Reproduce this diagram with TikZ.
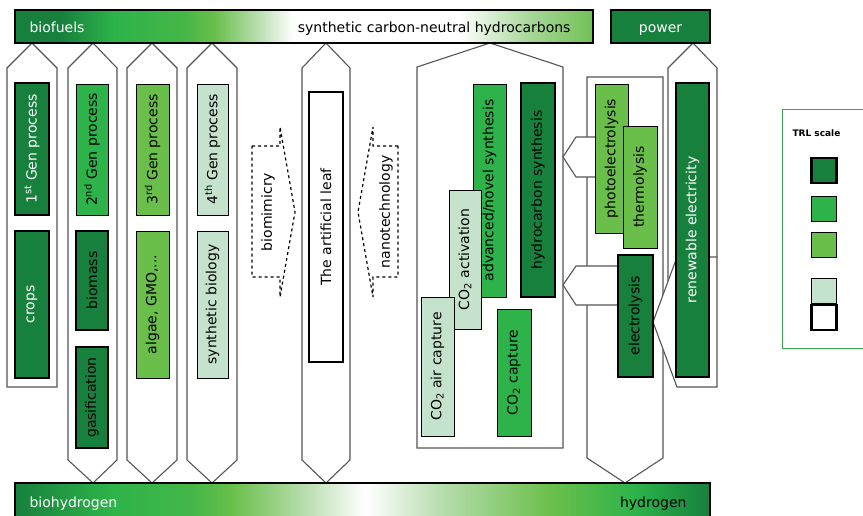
\documentclass[tikz,border=0pt]{standalone}
\usepackage{fontspec}
\setmainfont{DejaVu Sans}
\setsansfont{DejaVu Sans}
\usepackage{xcolor}
\usetikzlibrary{positioning}
\usetikzlibrary{calc}

\definecolor{trldark}{HTML}{17803D}
\definecolor{trlmid}{HTML}{2DB34A}
\definecolor{trllight}{HTML}{6ABF4B}
\definecolor{trlpale}{HTML}{C5E3CC}
\definecolor{trlmidlight}{HTML}{45B648}
\definecolor{fadegreen}{HTML}{B7DDAD}
\definecolor{rightgreen}{HTML}{72C155}
\definecolor{colline}{HTML}{555555}
\definecolor{legendline}{HTML}{3AA655}

\pgfdeclarehorizontalshading{topfade}{100bp}{color(0bp)=(trldark); color(25bp)=(trldark); color(28.9bp)=(trldark); color(33.6bp)=(trlmid); color(39.5bp)=(trlmidlight); color(42.3bp)=(trllight); color(45.9bp)=(fadegreen); color(49.1bp)=(white); color(63.4bp)=(white); color(69.5bp)=(fadegreen!80!trllight); color(75bp)=(rightgreen); color(100bp)=(rightgreen)}
\pgfdeclarehorizontalshading{bottomfade}{100bp}{color(0bp)=(trldark); color(25bp)=(trldark); color(31.8bp)=(trlmid); color(37.8bp)=(trlmidlight); color(40.6bp)=(trllight); color(45.8bp)=(fadegreen); color(50.2bp)=(white); color(55.7bp)=(fadegreen); color(63.6bp)=(trllight); color(69.6bp)=(trlmid); color(75bp)=(trldark); color(100bp)=(trldark)}

\begin{document}
\begin{tikzpicture}[x=1pt, y=-1pt, font=\fontsize{14}{16}\selectfont,
		column/.style={draw=colline, line width=1.1pt, fill=white},
		trl/.style={draw, rotate=90, inner sep=0pt, line width=0.8pt},
		trlthick/.style={trl, line width=2.2pt},
		bar/.style={draw, line width=2.2pt},
		dasharrow/.style={draw, dashed, line width=1.2pt}]
		\useasboundingbox (0, 0) rectangle (863, 516);

		% columns
		\draw [column] (7, 387) -- (7, 68) -- (32, 43) -- (57, 68) -- (57, 387) -- cycle;
		\draw [column] (68, 68) -- (93, 43) -- (117, 68) -- (117, 460) -- (93, 483) -- (68, 460) -- cycle;
		\draw [column] (127, 68) -- (152, 43) -- (177, 68) -- (177, 460) -- (152, 483) -- (127, 460) -- cycle;
		\draw [column] (187, 68) -- (212, 43) -- (237, 68) -- (237, 460) -- (212, 483) -- (187, 460) -- cycle;
		\draw [column] (302, 68) -- (326, 43) -- (350, 68) -- (350, 460) -- (326, 483) -- (302, 460) -- cycle;
		\draw [column] (417, 448) -- (417, 67) -- (490, 43) -- (563, 67) -- (563, 448) -- cycle;
		\draw [column] (587, 77) -- (663, 77) -- (663, 458) -- (625, 483) -- (587, 458) -- cycle;
		\draw [column, fill=none] (668, 281) -- (668, 68) -- (693, 43) -- (717, 68) -- (717, 257);
		\draw [column] (677, 257) -- (717, 257) -- (717, 387) -- (677, 387) -- (653, 322) -- cycle;

		% side arrows into the hydrocarbon column
		\fill [white] (600, 137) -- (576, 137) -- (563, 157) -- (576, 177) -- (600, 177) -- cycle;
		\draw [draw=colline, line width=1.1pt] (600, 137) -- (576, 137) -- (563, 157) -- (576, 177) -- (600, 177);
		\fill [white] (620, 266) -- (576, 266) -- (563, 285) -- (576, 305) -- (620, 305) -- cycle;
		\draw [draw=colline, line width=1.1pt] (620, 266) -- (576, 266) -- (563, 285) -- (576, 305) -- (620, 305);

		% top and bottom bars
		\draw [bar, shading=topfade] (15, 10) rectangle (593, 43);
		\node (biofuels) [text=white, anchor=base west] at (26, 33) {biofuels};
		\node (synfuels) [anchor=base east] at (574, 33) {synthetic carbon-neutral hydrocarbons};
		\node (power) [bar, fill=trldark, minimum width=99pt, minimum height=33pt, inner sep=0pt] at (660.5, 26.5) {};
		\node (powertext) [text=white, anchor=base] at (660.5, 33) {power};
		\draw [bar, shading=bottomfade] (15, 483) rectangle (710, 522);
		\node (biohydrogen) [text=white, anchor=base west] at (26, 507) {biohydrogen};
		\node (hydrogen) [anchor=base east] at (690, 507) {hydrogen};

		% biofuel processes
		\node (gen1) [trlthick, fill=trldark, text=white, minimum width=132pt, minimum height=34pt] at (32, 149) {1\textsuperscript{st} Gen process};
		\node (crops) [trlthick, fill=trldark, text=white, minimum width=147pt, minimum height=34pt] at (32, 304.5) {crops};
		\node (gen2) [trl, fill=trlmid, minimum width=131pt, minimum height=32pt] at (92, 149.5) {2\textsuperscript{nd} Gen process};
		\node (biomass) [trlthick, fill=trldark, minimum width=99pt, minimum height=32pt] at (92, 280.5) {biomass};
		\node (gasification) [trlthick, fill=trldark, minimum width=101pt, minimum height=32pt] at (92, 397.5) {gasification};
		\node (gen3) [trl, fill=trllight, minimum width=131pt, minimum height=33pt] at (152.5, 149.5) {3\textsuperscript{rd} Gen process};
		\node (algae) [trl, fill=trllight, minimum width=147pt, minimum height=33pt] at (152.5, 304.5) {algae, GMO,...};
		\node (gen4) [trl, fill=trlpale, minimum width=131pt, minimum height=31pt] at (212.5, 149.5) {4\textsuperscript{th} Gen process};
		\node (synbio) [trl, fill=trlpale, minimum width=147pt, minimum height=31pt] at (212.5, 304.5) {synthetic biology};

		% artificial leaf
		\draw [dasharrow] (252, 146) -- (280, 146) -- (280, 127) -- (295, 212) -- (280, 297) -- (280, 277) -- (252, 277) -- cycle;
		\node (biomimicry) [rotate=90] at (268, 212) {biomimicry};
		\draw [dasharrow] (398, 146) -- (373, 146) -- (373, 127) -- (358, 212) -- (373, 297) -- (373, 277) -- (398, 277) -- cycle;
		\node (nanotech) [rotate=90] at (386, 212) {nanotechnology};
		\node (leaf) [trlthick, fill=white, minimum width=270pt, minimum height=34pt] at (326, 227) {The artificial leaf};

		% synthetic hydrocarbons
		\node (advanced) [trl, fill=trlmid, minimum width=213pt, minimum height=33pt] at (489.5, 190.5) {advanced/novel synthesis};
		\node (hcsynth) [trlthick, fill=trldark, minimum width=214pt, minimum height=34pt] at (538, 190) {hydrocarbon synthesis};
		\node (co2act) [trl, fill=trlpale, minimum width=139pt, minimum height=32pt] at (465, 259.5) {CO\textsubscript{2} activation};
		\node (co2air) [trl, fill=trlpale, minimum width=139pt, minimum height=33pt] at (437.5, 366.5) {CO\textsubscript{2} air capture};
		\node (co2cap) [trl, fill=trlmid, minimum width=127pt, minimum height=34pt] at (514, 372.5) {CO\textsubscript{2} capture};

		% hydrogen
		\node (photo) [trl, fill=trllight, minimum width=149pt, minimum height=33pt] at (611.5, 158.5) {photoelectrolysis};
		\node (thermo) [trl, fill=trllight, minimum width=122pt, minimum height=34pt] at (640, 187) {thermolysis};
		\node (electro) [trlthick, fill=trldark, minimum width=122pt, minimum height=35pt] at (635.5, 316) {electrolysis};

		% power
		\node (renew) [trlthick, fill=trldark, text=white, minimum width=294pt, minimum height=33pt] at (692.5, 230) {renewable electricity};

		% legend
		\draw [draw=legendline, line width=1pt] (782, 110) rectangle (875, 348);
		\node (trltitle) [anchor=west, font=\fontsize{9}{10}\selectfont\bfseries] at (789, 133) {TRL scale};
		\node (trl1) [trlthick, fill=trldark, minimum width=25pt, minimum height=25pt] at (824, 170.5) {};
		\node (trl2) [trl, fill=trlmid, minimum width=25pt, minimum height=25pt] at (824, 209) {};
		\node (trl3) [trl, fill=trllight, minimum width=25pt, minimum height=25pt] at (824, 245) {};
		\node (trl4) [trl, fill=trlpale, minimum width=25pt, minimum height=25pt] at (824, 291) {};
		\node (trl5) [trlthick, fill=white, minimum width=25pt, minimum height=25pt] at (824, 317.5) {};
	\end{tikzpicture}
\end{document}
